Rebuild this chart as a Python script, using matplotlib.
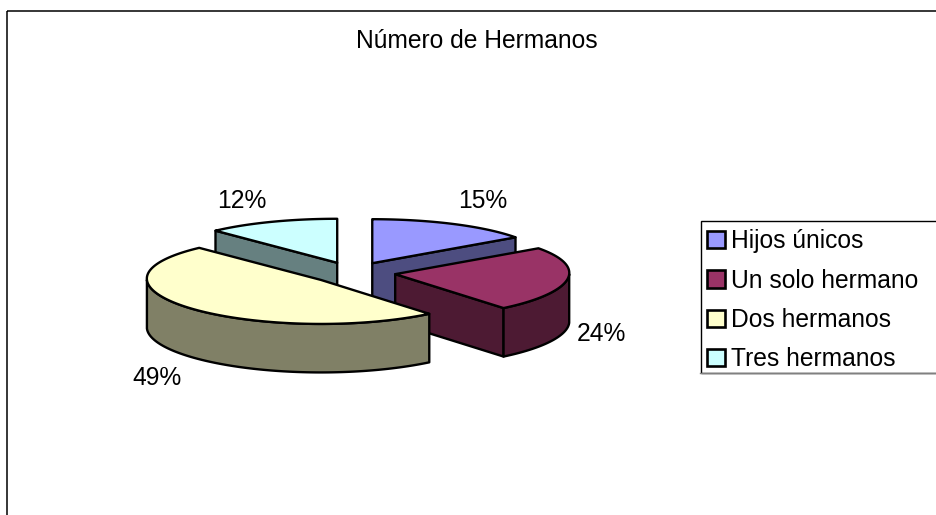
import numpy as np
import matplotlib
matplotlib.use('Agg')
import matplotlib.pyplot as plt
from matplotlib.patches import Patch, Rectangle

plt.rcParams['font.family'] = ['Liberation Sans', 'DejaVu Sans']

# datos
categorias = ['Hijos únicos', 'Un solo hermano', 'Dos hermanos', 'Tres hermanos']
valores = [15, 24, 49, 12]
titulo = 'Número de Hermanos'

colores_top = ['#9999FF', '#993366', '#FFFFCC', '#CCFFFF']
colores_lado = ['#4D4D80', '#4D1A33', '#808066', '#668080']

# geometria de la tarta en pixeles
CX, CY = 352.9, 272.8
RX, RY = 174.0, 44.0
PERSP = 0.03
EXPLODE = 0.245
DEPTH = 48.5
LW = 1.7
FS = 17.75
label_offsets = [(29, -23), (34, 54), (-36, 69), (-30, -21)]

fig = plt.figure(figsize=(9.36, 5.15), dpi=100)
ax = fig.add_axes([0, 0, 1, 1])
ax.set_xlim(0, 936)
ax.set_ylim(515, 0)
ax.axis('off')

# marco del grafico, solo se ve arriba y a la izquierda
ax.add_patch(Rectangle((7, 10.5), 1200, 800, fill=False, ec='black', lw=1.1))


def rim(cx, cy, ang):
    return cx + RX * np.sin(ang) * (1 + PERSP * np.cos(ang)), cy - RY * np.cos(ang)


def draw_slice(val_ini, val_fin, top, lado, offset):
    t1, t2 = np.radians(val_ini * 3.6), np.radians(val_fin * 3.6)
    mid = (t1 + t2) / 2
    cx = CX + EXPLODE * RX * np.sin(mid)
    cy = CY - EXPLODE * RY * np.cos(mid)
    kw = dict(fc=lado, ec='black', lw=LW, joinstyle='round')

    # paredes rectas
    for ang, visible in ((t1, np.sin(t1) < 0), (t2, np.sin(t2) > 0)):
        if visible:
            x, y = rim(cx, cy, ang)
            ax.fill([cx, x, x, cx], [cy, y, y + DEPTH, cy + DEPTH], **kw)

    # pared curva, solo la mitad de delante
    a1, a2 = max(t1, np.pi / 2), min(t2, 3 * np.pi / 2)
    if a2 > a1:
        ang = np.linspace(a1, a2, 120)
        x, y = rim(cx, cy, ang)
        ax.fill(np.r_[x, x[::-1]], np.r_[y, y[::-1] + DEPTH], **kw)

    # cara de arriba
    ang = np.linspace(t1, t2, 200)
    x, y = rim(cx, cy, ang)
    ax.fill(np.r_[cx, x], np.r_[cy, y], fc=top, ec='black', lw=LW, joinstyle='round')

    lx, ly = rim(cx, cy, mid)
    return lx + offset[0], ly + offset[1]


limites = np.r_[0, np.cumsum(valores)]
orden = [3, 0, 1, 2]  # de atras hacia delante
for i in orden:
    lx, ly = draw_slice(limites[i], limites[i + 1], colores_top[i], colores_lado[i], label_offsets[i])
    ax.text(lx, ly, f'{valores[i]}%', fontsize=FS, ha='center', va='center', color='black')

ax.text(477, 40.5, titulo, fontsize=FS, ha='center', va='center', color='black')

# caja de la leyenda, con la sombra gris abajo
ax.add_patch(Rectangle((700.5, 221), 400, 151.5, fc='white', ec='black', lw=1.0, zorder=4))
ax.plot([700, 936], [373, 373], color='#808080', lw=1.0, zorder=4)

handles = [Patch(fc=c, ec='black', lw=1.9) for c in colores_top]
leg = ax.legend(handles, categorias, loc='upper left',
                bbox_to_anchor=(700, 222), bbox_transform=ax.transData,
                fontsize=FS, frameon=False, handlelength=0.7, handleheight=0.7,
                handletextpad=0.27, labelspacing=0.62, borderpad=0.3, borderaxespad=0)
leg.set_zorder(5)

fig.savefig('out.png', dpi=100)
plt.close(fig)
